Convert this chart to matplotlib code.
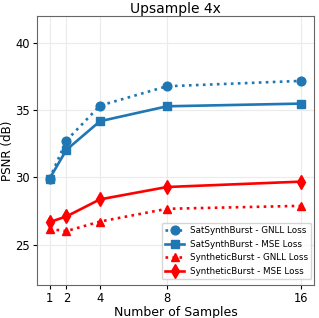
import matplotlib
matplotlib.use("Agg")
import matplotlib.pyplot as plt

samples = [1, 2, 4, 8, 16]
sat_gnll = [29.9, 32.73, 35.33, 36.77, 37.17]
sat_mse = [29.9, 32.04, 34.17, 35.28, 35.48]
syn_gnll = [26.16, 26.0, 26.71, 27.66, 27.88]
syn_mse = [26.67, 27.09, 28.36, 29.28, 29.68]

fig = plt.figure(figsize=(3.19, 3.18), dpi=100)
ax = fig.add_axes([0.116, 0.104, 0.868, 0.846])

blue = "#1f77b4"
lw = 1.9
ms = 6.3
ax.plot(samples, sat_gnll, ':', color=blue, marker='o', lw=lw, ms=ms, label="SatSynthBurst - GNLL Loss")
ax.plot(samples, sat_mse, '-', color=blue, marker='s', lw=lw, ms=ms, label="SatSynthBurst - MSE Loss")
ax.plot(samples, syn_gnll, ':', color='red', marker='^', lw=lw, ms=ms, label="SyntheticBurst - GNLL Loss")
ax.plot(samples, syn_mse, '-', color='red', marker='d', lw=lw, ms=ms + 1, label="SyntheticBurst - MSE Loss")

ax.set_xticks(samples)
ax.set_xticklabels([str(s) for s in samples])
ax.set_yticks([25, 30, 35, 40])
ax.set_ylim(22, 42)
ax.set_xlim(0.25, 16.75)
ax.tick_params(labelsize=8.3, length=3, pad=2)
ax.grid(True, color="#ebebeb", lw=0.8)
ax.set_axisbelow(True)
for s in ax.spines.values():
    s.set_color("#666666")
ax.set_title("Upsample 4x", fontsize=10, pad=2)
ax.set_xlabel("Number of Samples", fontsize=9, labelpad=1)
ax.set_ylabel("PSNR (dB)", fontsize=8.6, labelpad=1)
ax.legend(loc="lower right", bbox_to_anchor=(1.0, 0.012), fontsize=6.3,
          handlelength=2.2, borderpad=0.4, labelspacing=0.5, borderaxespad=0.3,
          handletextpad=0.6)

fig.savefig("out.png", dpi=100)
